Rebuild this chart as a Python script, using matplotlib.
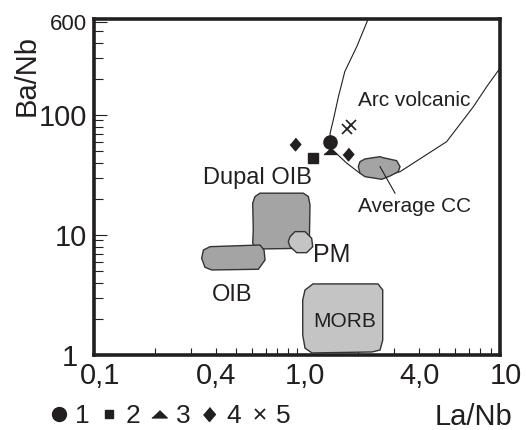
import matplotlib.pyplot as plt
import matplotlib.transforms as mtransforms
from matplotlib.patches import Polygon
from matplotlib.lines import Line2D
from matplotlib.ticker import NullFormatter

plt.rcParams['font.family'] = ['Liberation Sans', 'DejaVu Sans']
ink = '#231f20'

# samples: La/Nb, Ba/Nb
s1_x = [1.45]
s1_y = [60]
s2_x = [1.20]
s2_y = [44]
s3_x = [1.45]
s3_y = [50]
s4_x = [0.98, 1.79]
s4_y = [57, 47]
s5_x = [1.76, 1.84]
s5_y = [77, 83]

# arc volcanic field outline
arc_x = [2.25, 1.97, 1.72, 1.60, 1.51, 1.454, 1.50, 1.60, 1.76, 2.04, 2.56, 3.22, 4.19, 5.46, 7.39, 8.60, 10.0]
arc_y = [640, 371, 230, 142, 91, 70, 51, 46, 39.6, 32.7, 29.9, 33.7, 44.9, 59.9, 117, 172, 245]

# reference fields
dupal_x = [0.605, 0.609, 0.605, 0.621, 0.657, 1.074, 1.137, 1.159, 1.150, 1.116, 0.670, 0.621]
dupal_y = [8.53, 11.0, 18.4, 20.9, 22.3, 22.3, 20.9, 17.8, 8.53, 7.75, 7.65, 7.99]
oib_x = [0.346, 0.373, 0.657, 0.688, 0.696, 0.645, 0.380, 0.352, 0.339]
oib_y = [7.50, 7.99, 8.25, 7.50, 6.19, 5.18, 5.11, 5.38, 6.40]
pm_x = [0.924, 0.977, 1.095, 1.181, 1.195, 1.116, 0.997, 0.924, 0.906]
pm_y = [9.68, 10.66, 10.66, 9.39, 7.99, 7.12, 7.12, 7.99, 8.80]
morb_x = [1.067, 1.095, 1.199, 2.506, 2.644, 2.644, 2.564, 2.342, 1.186, 1.095, 1.067]
morb_y = [2.87, 3.48, 3.91, 3.91, 3.48, 1.33, 1.10, 1.06, 1.04, 1.14, 1.47]
cc_x = [2.043, 2.163, 2.564, 2.644, 3.097, 3.217, 3.155, 2.873, 2.614, 2.163, 2.043, 2.004]
cc_y = [40.8, 43.0, 44.9, 44.1, 41.6, 37.1, 33.7, 31.0, 29.1, 30.6, 32.7, 37.1]
cc_lead_x = [2.564, 3.04]
cc_lead_y = [37.1, 22.3]

xtick_vals = [0.1, 0.4, 1, 4, 10]
xtick_labels = ['0,1', '0,4', '1,0', '4,0', '10']
ytick_vals = [1, 10, 100, 600]
ytick_labels = ['1', '10', '100', '600']

tri = [(-1, -0.45), (1, -0.45), (0, 0.5)]
dia = [(0, 1), (0.85, 0), (0, -1), (-0.85, 0)]

fig = plt.figure(figsize=(5.26, 4.30), dpi=100)
ax = fig.add_axes([94/526, 1-355/430, 406/526, 336/430])
ax.set_xscale('log')
ax.set_yscale('log')
ax.set_xlim(0.1, 10)
ax.set_ylim(1, 630)

ax.plot(arc_x, arc_y, color=ink, lw=0.8, zorder=2)

dark = '#a4a4a4'
light = '#c4c4c4'
for px, py, fc in [(dupal_x, dupal_y, dark), (oib_x, oib_y, dark), (pm_x, pm_y, light),
                   (morb_x, morb_y, light), (cc_x, cc_y, dark)]:
    ax.add_patch(Polygon(list(zip(px, py)), closed=True, fc=fc, ec='#333333', lw=1.0, zorder=3))
ax.plot(cc_lead_x, cc_lead_y, color=ink, lw=0.8, zorder=4)

ax.plot(s1_x, s1_y, 'o', color=ink, ms=9.5, zorder=5)
ax.plot(s2_x, s2_y, 's', color=ink, ms=6.5, zorder=5)
ax.plot(s3_x, s3_y, marker=tri, ls='none', color=ink, ms=9.5, zorder=5)
ax.plot(s4_x, s4_y, marker=dia, ls='none', color=ink, ms=9, zorder=5)
ax.plot(s5_x, s5_y, 'x', color=ink, ms=7, mew=1.2, zorder=5)

ax.text(2.005, 118.9, 'Arc volcanic', fontsize=15, color=ink, ha='left', va='baseline', zorder=6)
ax.text(1.181, 26.6, 'Dupal OIB', fontsize=17, color=ink, ha='right', va='baseline', zorder=6)
ax.text(2.005, 15.6, 'Average CC', fontsize=15, color=ink, ha='left', va='baseline', zorder=6)
ax.text(1.203, 5.99, 'PM', fontsize=18, color=ink, ha='left', va='baseline', zorder=6)
ax.text(0.380, 2.84, 'OIB', fontsize=17, color=ink, ha='left', va='baseline', zorder=6)
ax.text(1.724, 1.72, 'MORB', fontsize=15, color=ink, ha='center', va='baseline', zorder=6)

ax.set_xticks(xtick_vals)
ax.set_xticklabels(xtick_labels)
ax.set_yticks(ytick_vals)
ax.set_yticklabels(ytick_labels)
ax.xaxis.set_minor_formatter(NullFormatter())
ax.yaxis.set_minor_formatter(NullFormatter())
ax.tick_params(axis='both', which='both', direction='in', color=ink, width=0.8, labelcolor=ink, labelsize=21)
ax.tick_params(axis='x', which='both', length=5, pad=5)
ax.tick_params(axis='y', which='major', length=9.5, pad=5)
ax.tick_params(axis='y', which='minor', length=6.5)
ax.get_yticklabels()[3].set_fontsize(16)

# small hand nudges of some tick labels, as in the original drawing
def nudge(lab, dx, dy=0):
    lab.set_transform(lab.get_transform() + mtransforms.ScaledTranslation(dx/100, dy/100, fig.dpi_scale_trans))

xl = ax.get_xticklabels()
nudge(xl[0], 6)
nudge(xl[2], 8)
nudge(xl[4], 6)
nudge(ax.get_yticklabels()[0], -9)

for sp in ax.spines.values():
    sp.set_linewidth(2.6)
    sp.set_color(ink)

fig.text(41/526, 1-75/430, 'Ba/Nb', rotation=90, fontsize=21, color=ink, ha='right', va='center')
fig.text(512/526, 5/430, 'La/Nb', fontsize=21, color=ink, ha='right', va='baseline')

handles = [Line2D([], [], ls='none', marker='o', color=ink, ms=10),
           Line2D([], [], ls='none', marker='s', color=ink, ms=6),
           Line2D([], [], ls='none', marker=tri, color=ink, ms=11),
           Line2D([], [], ls='none', marker=dia, color=ink, ms=10),
           Line2D([], [], ls='none', marker='x', color=ink, ms=7, mew=1.3)]
fig.legend(handles, ['1', '2', '3', '4', '5'], loc='center left', bbox_to_anchor=(50/526, 1-416/430),
           ncol=5, frameon=False, fontsize=19, handlelength=0.65, handletextpad=0.3,
           columnspacing=0.4, borderpad=0, borderaxespad=0, labelcolor=ink)

fig.savefig('out.png', dpi=100)
